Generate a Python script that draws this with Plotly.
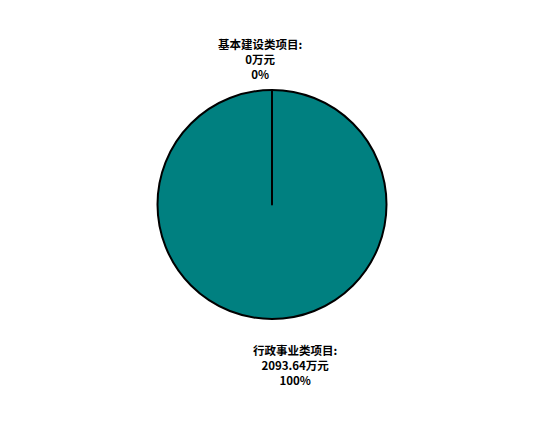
import plotly.graph_objects as go

# data
labels = ["行政事业类项目", "基本建设类项目"]
values = [2093.64, 0]
percents = ["100%", "0%"]

W, H = 540, 448
OFF = 8  # page body margin

fig = go.Figure()
fig.add_trace(
    go.Pie(
        labels=labels,
        values=values,
        sort=False,
        direction="clockwise",
        rotation=0,
        textinfo="none",
        hoverinfo="label+value+percent",
        marker={"colors": ["#008080", "#008080"], "line": {"color": "black", "width": 2}},
        domain={
            "x": [(157.5 - OFF) / W, (386.5 - OFF) / W],
            "y": [1 - (319 - OFF) / H, 1 - (90 - OFF) / H],
        },
        showlegend=False,
    )
)

# slice labels, written outside the pie
label_pos = [(295, 365), (260, 59)]
for name, val, pct, (px, py) in zip(labels, values, percents, label_pos):
    fig.add_annotation(
        x=(px - OFF) / W,
        y=1 - (py - OFF) / H,
        xref="paper",
        yref="paper",
        xanchor="center",
        yanchor="middle",
        text=f"<b>{name}:</b><br><b>{val:g}万元</b><br><b>{pct}</b>",
        showarrow=False,
        align="center",
        font={"family": "Noto Sans CJK SC", "size": 11.5, "color": "black"},
    )

fig.update_layout(
    width=W,
    height=H,
    margin={"l": 0, "r": 0, "t": 0, "b": 0},
    paper_bgcolor="white",
    plot_bgcolor="white",
)
fig.write_html("out.html")
